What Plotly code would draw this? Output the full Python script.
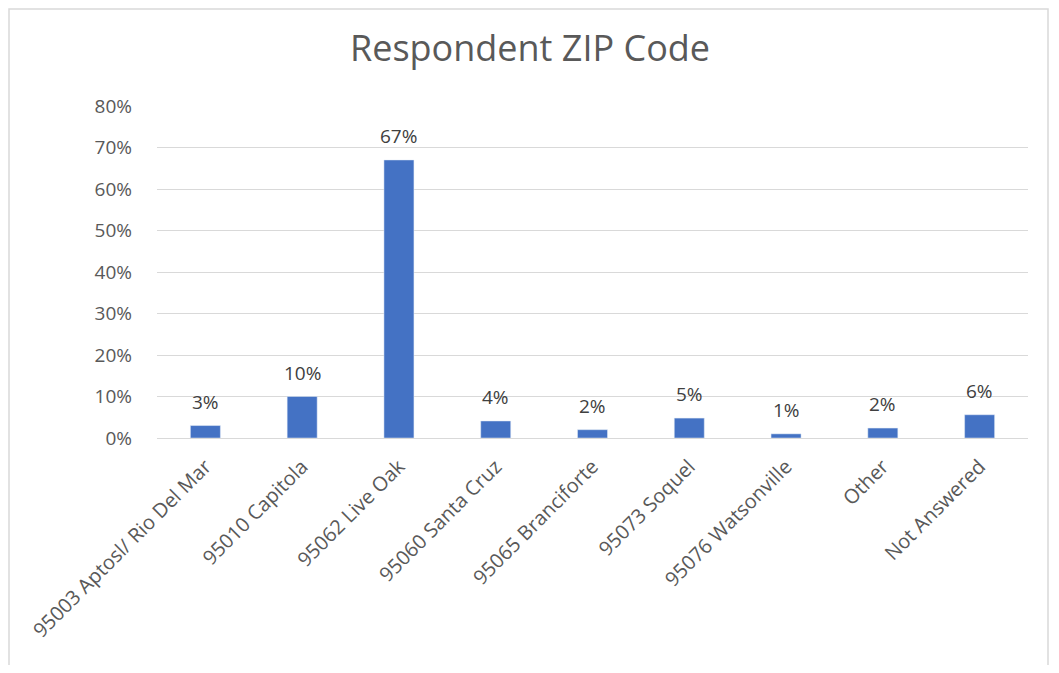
import plotly.graph_objects as go

# Dados do gráfico
categories = [
    "95003 Aptosl/ Rio Del Mar",
    "95010 Capitola",
    "95062 Live Oak",
    "95060 Santa Cruz",
    "95065 Branciforte",
    "95073 Soquel",
    "95076 Watsonville",
    "Other",
    "Not Answered",
]
shares = [0.030, 0.100, 0.670, 0.041, 0.020, 0.048, 0.010, 0.024, 0.056]
y_ticks = [0, 0.1, 0.2, 0.3, 0.4, 0.5, 0.6, 0.7, 0.8]

BAR_COLOR = "#4472C4"
TEXT_COLOR = "#595959"
FONT = "Open Sans, Noto Sans, sans-serif"

# a página HTML tem margem de 8px no body, por isso a figura é menor
W, H = 1043, 657
L, R, T, B = 149, 23, 98, 227
pw, ph = W - L - R, H - T - B

fig = go.Figure(go.Bar(
    x=categories,
    y=shares,
    marker_color=BAR_COLOR,
    width=0.31,
    hovertemplate="%{x}: %{y:.0%}<extra></extra>",
))

# Rótulos de dados acima das barras
for cat, val in zip(categories, shares):
    fig.add_annotation(
        x=cat, y=val, text=f"{val:.0%}", showarrow=False,
        yanchor="middle", yshift=24,
        font=dict(size=19, color="#404040", family=FONT),
    )

fig.update_layout(
    width=W,
    height=H,
    paper_bgcolor="white",
    plot_bgcolor="white",
    margin=dict(l=L, r=R, t=T, b=B),
    showlegend=False,
    title=dict(
        text="Respondent ZIP Code",
        x=(530 - 8) / W, xref="container", xanchor="center",
        y=1 - 40 / H, yref="container", yanchor="middle",
        font=dict(size=36, color=TEXT_COLOR, family=FONT),
    ),
    font=dict(family=FONT, color=TEXT_COLOR),
    xaxis=dict(
        tickangle=-45,
        tickfont=dict(size=20, color=TEXT_COLOR),
        showgrid=False,
        showline=False,
        ticks="",
        ticklabelstandoff=12,
    ),
    yaxis=dict(
        range=[0, 0.8],
        tickvals=y_ticks,
        tickformat=".0%",
        tickfont=dict(size=19, color=TEXT_COLOR),
        gridcolor="#D9D9D9",
        gridwidth=1,
        zeroline=True,
        zerolinecolor="#D9D9D9",
        zerolinewidth=1,
        ticks="",
        ticklabelstandoff=24,
    ),
    shapes=[dict(
        type="rect", xref="paper", yref="paper",
        x0=-(L - 1) / pw, x1=1 + (R - 3) / pw,
        y0=-(B + 20) / ph, y1=1 + (T - 1) / ph,
        line=dict(color="#D9D9D9", width=1.5),
        layer="below",
    )],
)

fig.write_html("out.html")
